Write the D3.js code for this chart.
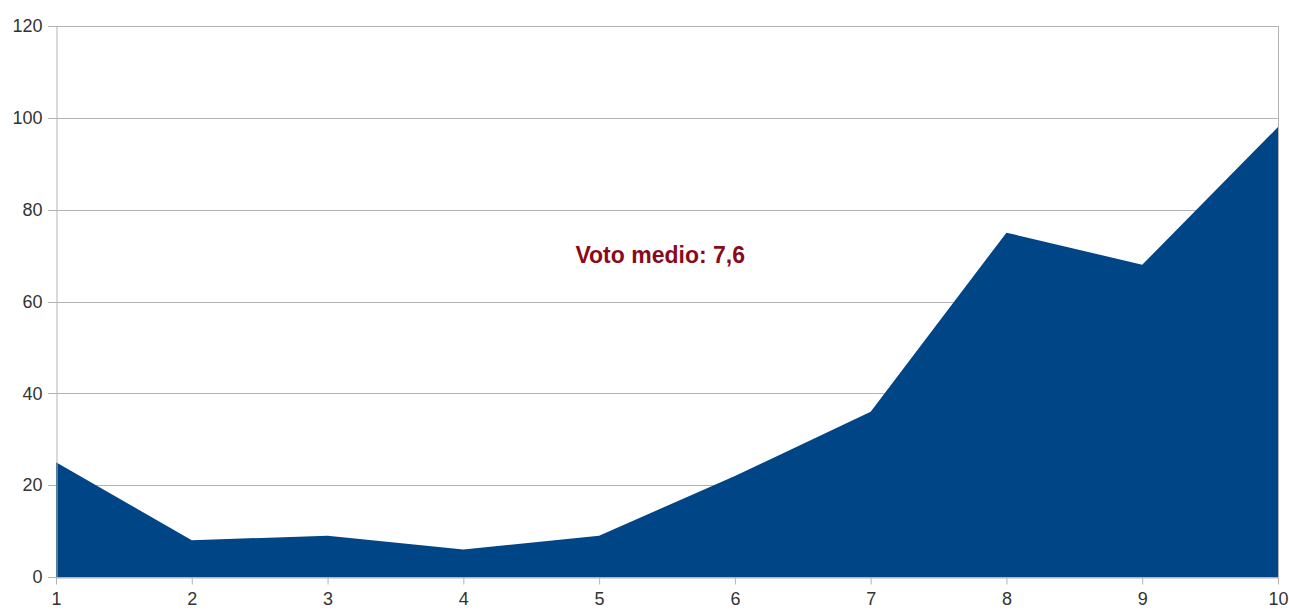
<!DOCTYPE html>
<html>
  <head>
    <meta charset="utf-8">
    <title>Voto medio</title>
    <script src="https://d3js.org/d3.v7.min.js"></script>
    <style>
      body { margin: 0; background: #fff; }
      #chart { display: block; }
      .tick text { font-family: "Liberation Sans", Arial, sans-serif; font-size: 18px; fill: #333; }
      .grid line { stroke: #b3b3b3; stroke-width: 1; }
      .frame { fill: none; stroke: #b3b3b3; }
    </style>
  </head>
  <body>
    <svg id="chart" width="1289" height="612"></svg>
    <script>
      // data
      votes = [1, 2, 3, 4, 5, 6, 7, 8, 9, 10];
      counts = [25, 8, 9, 6, 9, 22, 36, 75, 68, 98];
      yTicks = [0, 20, 40, 60, 80, 100, 120];
      note = "Voto medio: 7,6";

      chart = d3.select("#chart");
      margin = { top: 26, right: 11, bottom: 35, left: 56 };
      width = 1289;
      height = 612;

      x = d3.scaleLinear()
        .domain([1, 10])
        .range([margin.left, width - margin.right]);
      y = d3.scaleLinear()
        .domain([0, 120])
        .range([height - margin.bottom, margin.top]);

      // gridlines
      chart.append("g")
        .attr("class", "grid")
        .selectAll("line")
        .data(yTicks)
        .join("line")
          .attr("x1", margin.left - 8)
          .attr("x2", width - margin.right)
          .attr("y1", function(d) { return Math.round(y(d)) + 0.5; })
          .attr("y2", function(d) { return Math.round(y(d)) + 0.5; });

      // right border
      chart.append("line")
        .attr("class", "frame")
        .attr("x1", width - margin.right + 0.5)
        .attr("x2", width - margin.right + 0.5)
        .attr("y1", y(120))
        .attr("y2", y(0));

      // area
      area = d3.area()
        .x(function(d, i) { return x(votes[i]); })
        .y0(y(0))
        .y1(function(d) { return y(d); });
      chart.append("path")
        .datum(counts)
        .attr("fill", "#004586")
        .attr("d", area);

      // axes
      yAxis = d3.axisLeft(y)
        .tickValues(yTicks)
        .tickSize(0)
        .tickPadding(14);
      yAxisGroup = chart.append("g")
        .attr("transform", "translate(" + (margin.left + 0.5) + ",0)")
        .call(yAxis);
      yAxisGroup.select(".domain").attr("stroke", "#b3b3b3");

      xAxis = d3.axisBottom(x)
        .tickValues(votes)
        .tickFormat(d3.format("d"))
        .tickSize(6)
        .tickSizeOuter(0)
        .tickPadding(9);
      xAxisGroup = chart.append("g")
        .attr("transform", "translate(0," + (y(0) + 0.5) + ")")
        .call(xAxis);
      xAxisGroup.select(".domain").attr("stroke", "#b3b3b3");
      xAxisGroup.selectAll(".tick line")
        .attr("stroke", "#b3b3b3")
        .attr("y2", 7);

      // annotation
      chart.append("text")
        .attr("x", x(5.45))
        .attr("y", y(68.4))
        .attr("text-anchor", "middle")
        .attr("font-family", "'Liberation Sans', Arial, sans-serif")
        .attr("font-weight", "bold")
        .attr("font-size", "23px")
        .attr("fill", "#8b0a1a")
        .text(note);
    </script>
  </body>
</html>
